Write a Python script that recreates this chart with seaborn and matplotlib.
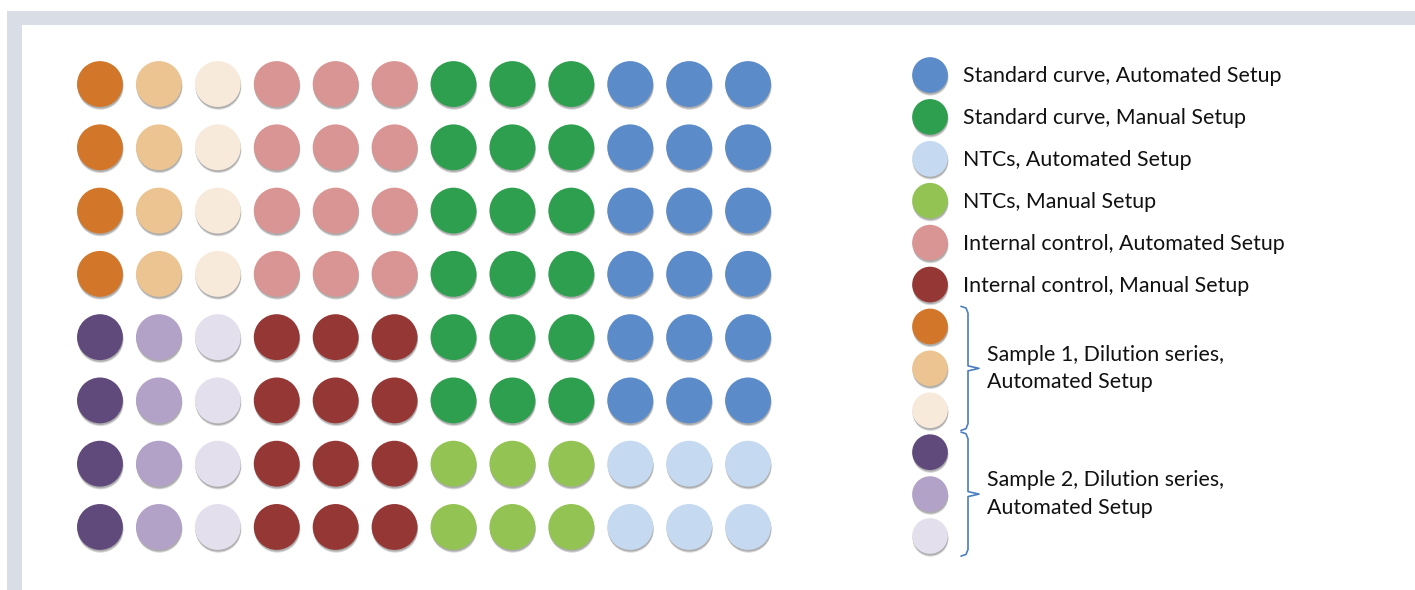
import numpy as np
import pandas as pd
import seaborn as sns
import matplotlib.pyplot as plt
import matplotlib.patheffects as pe
from matplotlib.patches import Rectangle

# sample codes and colours
codes = ["SA", "SM", "NA", "NM", "IA", "IM", "S1a", "S1b", "S1c", "S2a", "S2b", "S2c"]
colors = ["#5b8bc9", "#2e9e4f", "#c5d9f0", "#92c353", "#d99593", "#953735",
          "#d2772a", "#ecc491", "#f8eadb", "#604a7b", "#b3a2c7", "#e4dfec"]
legend_labels = ["Standard curve, Automated Setup", "Standard curve, Manual Setup",
                 "NTCs, Automated Setup", "NTCs, Manual Setup",
                 "Internal control, Automated Setup", "Internal control, Manual Setup"]
sample_labels = ["Sample 1, Dilution series,\nAutomated Setup",
                 "Sample 2, Dilution series,\nAutomated Setup"]

# 8 x 12 plate layout
row_top = ["S1a", "S1b", "S1c", "IA", "IA", "IA", "SM", "SM", "SM", "SA", "SA", "SA"]
row_mid = ["S2a", "S2b", "S2c", "IM", "IM", "IM", "SM", "SM", "SM", "SA", "SA", "SA"]
row_bot = ["S2a", "S2b", "S2c", "IM", "IM", "IM", "NM", "NM", "NM", "NA", "NA", "NA"]
plate = [row_top] * 4 + [row_mid] * 2 + [row_bot] * 2

palette = dict(zip(codes, colors))

wells = pd.DataFrame([(r, c, code) for r, row in enumerate(plate) for c, code in enumerate(row)],
                     columns=["row", "col", "code"])
legend_df = pd.DataFrame({"item": range(len(codes)), "x": 930, "code": codes})

sns.set_style("white")
plt.rcParams["font.family"] = ["Lato", "DejaVu Sans"]

W, H = 1415, 590
fig = plt.figure(figsize=(W / 100, H / 100), dpi=100)

def px_axes(x0, y0, x1, y1):
    return fig.add_axes([x0 / W, 1 - y1 / H, (x1 - x0) / W, (y1 - y0) / H])

shadow = [pe.SimplePatchShadow(offset=(0.4, -2.0), shadow_rgbFace=(0.3, 0.3, 0.3), alpha=0.22),
          pe.SimplePatchShadow(offset=(0.3, -1.2), shadow_rgbFace=(0.3, 0.3, 0.3), alpha=0.3),
          pe.Normal()]

# plate
ax = px_axes(70.5, 52.4, 777.5, 558.6)
sns.scatterplot(data=wells, x="col", y="row", hue="code", palette=palette, s=1090,
                linewidth=0, legend=False, ax=ax)
ax.collections[0].set_path_effects(shadow)
ax.set_xlim(-0.5, 11.5)
ax.set_ylim(7.5, -0.5)
ax.axis("off")

# legend column
lax = px_axes(900, 54.05, 1415, 556.95)
sns.scatterplot(data=legend_df, x="x", y="item", hue="code", palette=palette, s=660,
                linewidth=0, legend=False, ax=lax)
lax.collections[0].set_path_effects(shadow)
lax.set_xlim(900, 1415)
lax.set_ylim(11.5, -0.5)
lax.axis("off")

for i, lab in enumerate(legend_labels):
    lax.text(963, i + 0.03, lab, fontsize=15.4, va="center", ha="left", color="#111111")

bc = "#4a7ebf"
for k, lab in enumerate(sample_labels):
    top = 5.5 + 3 * k
    mid = top + 1.5
    bot = top + 3
    bx = [961, 966, 968, 968, 979, 968, 968, 966, 961]
    by = [top + 0.02, top + 0.06, top + 0.18, mid - 0.06, mid, mid + 0.06, bot - 0.18, bot - 0.06, bot - 0.02]
    lax.plot(bx, by, color=bc, lw=1.2, solid_joinstyle="round")
    lax.text(987, mid, lab, fontsize=15.4, va="center", ha="left", color="#111111", linespacing=1.45)

# frame bands
band = "#d9dee6"
fig.add_artist(Rectangle((7 / W, 1 - 25 / H), 1 - 7 / W, 14 / H, transform=fig.transFigure,
                         color=band, lw=0, zorder=-1))
fig.add_artist(Rectangle((7 / W, 0), 15 / W, 1 - 25 / H, transform=fig.transFigure,
                         color=band, lw=0, zorder=-1))

fig.savefig("out.png", dpi=100, facecolor="white")
